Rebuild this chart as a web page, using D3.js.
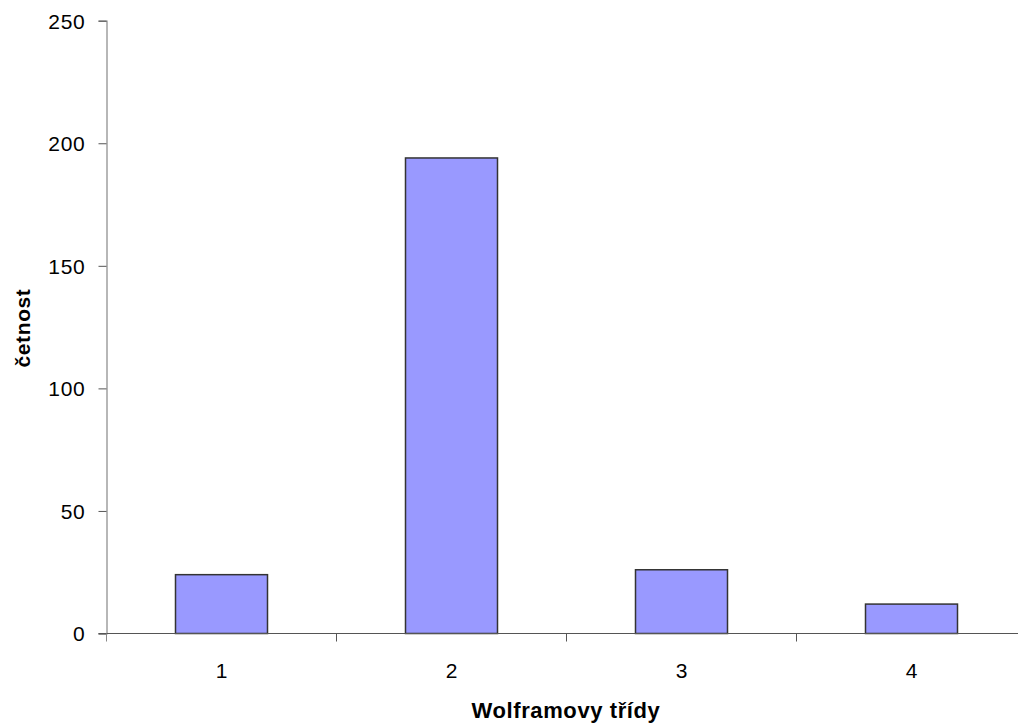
<!DOCTYPE html>
<html><head><meta charset="utf-8">
<script src="https://cdn.jsdelivr.net/npm/d3@7"></script>
<style>body{margin:0;background:#fff}svg{display:block}</style>
</head><body>
<script>
const categories = ["1","2","3","4"];
const values = [24, 194, 26, 12];
const yTicks = [0, 50, 100, 150, 200, 250];

const W = 1018, H = 726;
const m = {left: 106.5, top: 20.7};
const plotRight = 1026.5; // plot area extends past the window edge
const svg = d3.select("body").append("svg").attr("width", W).attr("height", H)
  .style("font-family", "'Liberation Sans', Arial, sans-serif");

const x = d3.scaleBand().domain(categories).range([m.left, plotRight]).paddingInner(0.6).paddingOuter(0.3);
const xc = d3.scaleBand().domain(categories).range([m.left, plotRight]);
const y = d3.scaleLinear().domain([0, 250]).range([633.5, m.top]);

// bars
svg.selectAll("rect.bar").data(values).enter().append("rect")
  .attr("x", (d,i)=>x(categories[i]))
  .attr("y", d=>y(d))
  .attr("width", x.bandwidth())
  .attr("height", d=>y(0)-y(d))
  .attr("fill", "#9999ff").attr("stroke", "#333333").attr("stroke-width", 1.5);

// y axis
const yAxis = d3.axisLeft(y).tickValues(yTicks).tickSize(8).tickPadding(13);
const gy = svg.append("g").attr("transform", `translate(${m.left},0)`).call(yAxis);
gy.select(".domain").attr("stroke", "#888").attr("stroke-width", 1.2);
gy.selectAll(".tick line").attr("stroke", "#555");
gy.selectAll("text").attr("font-size", 21).attr("letter-spacing", 0.7).attr("fill", "#000").attr("dy", "0.35em");

// x axis
const gx = svg.append("g").attr("transform", `translate(0,${y(0)})`);
gx.append("line").attr("x1", m.left - 8).attr("x2", plotRight).attr("stroke", "#555").attr("stroke-width", 1.2);
gx.selectAll("line.tk").data(categories.slice(1)).enter().append("line")
  .attr("x1", d=>xc(d)).attr("x2", d=>xc(d)).attr("y1", 0).attr("y2", 8)
  .attr("stroke", "#555");
gx.append("line").attr("x1", m.left).attr("x2", m.left).attr("y1", 0).attr("y2", 8).attr("stroke", "#888");
gx.selectAll("text").data(categories).enter().append("text")
  .attr("x", d=>xc(d)+xc.bandwidth()/2).attr("y", 44.5)
  .attr("text-anchor", "middle").attr("font-size", 21).text(d=>d);

// axis titles
svg.append("text").attr("x", 566).attr("y", 718).attr("text-anchor", "middle")
  .attr("font-size", 22).attr("letter-spacing", 0.6).attr("font-weight", "bold").text("Wolframovy třídy");
svg.append("text").attr("transform", "translate(30,328) rotate(-90)").attr("text-anchor", "middle")
  .attr("font-size", 21).attr("letter-spacing", 0.6).attr("font-weight", "bold").text("četnost");
</script>
</body></html>
